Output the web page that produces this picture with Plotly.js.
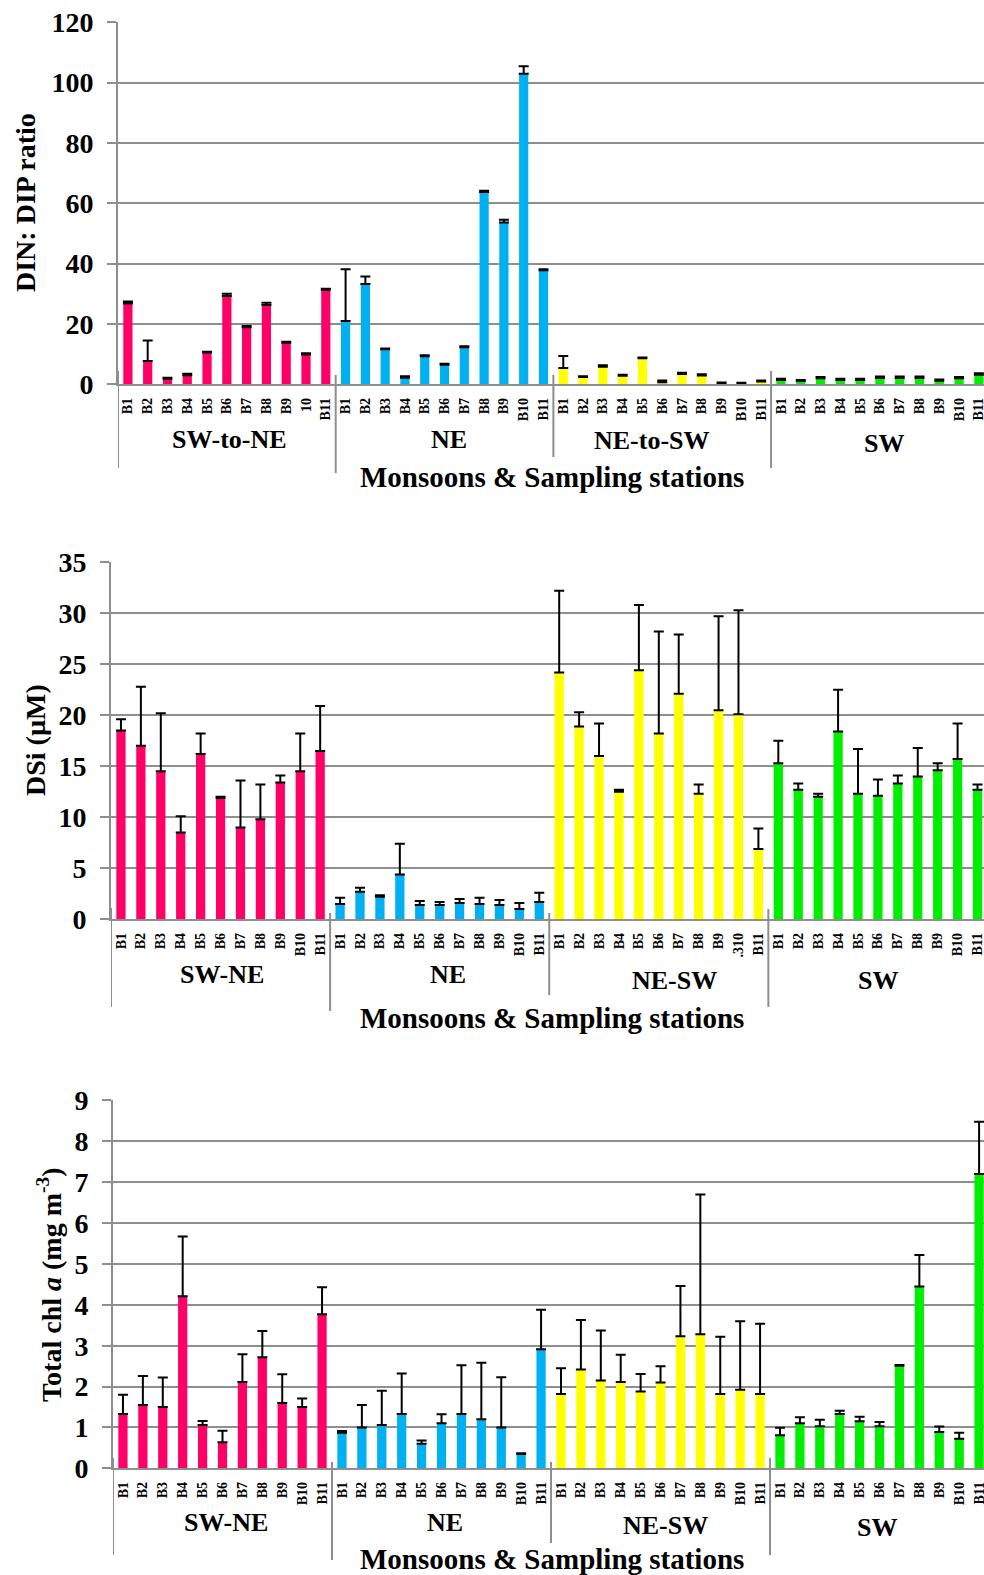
<!DOCTYPE html>
<html><head><meta charset="utf-8">
<script src="https://cdn.plot.ly/plotly-3.0.1.min.js"></script>
<style>html,body{margin:0;padding:0;background:#fff;overflow:hidden}</style>
</head><body>
<div id="chart" style="width:984px;height:1575px"></div>
<script>
// ---------- DATA ----------
const stations = ['B1','B2','B3','B4','B5','B6','B7','B8','B9','B10','B11'];
const groupColors = ['#FF0066','#00B0F0','#FFFF00','#00EE00'];

// Panel 1: DIN:DIP ratio
const dinGroups = ['SW-to-NE','NE','NE-to-SW','SW'];
const dinTicksSWtoNE = ['B1','B2','B3','B4','B5','B6','B7','B8','B9','10','B11'];
const dinMeanSWtoNE = [26.8, 7.7, 1.8, 3.0, 10.5, 29.3, 18.9, 26.3, 13.8, 9.9, 31.3];
const dinSdSWtoNE   = [0.6, 6.8, 0.4, 0.5, 0.3, 0.7, 0.4, 0.7, 0.3, 0.4, 0.4];
const dinMeanNE     = [21.0, 33.2, 11.6, 2.2, 9.3, 6.5, 12.3, 63.7, 53.6, 102.9, 37.8];
const dinSdNE       = [17.1, 2.5, 0.3, 0.5, 0.3, 0.3, 0.3, 0.4, 0.9, 2.5, 0.3];
const dinMeanNEtoSW = [5.4, 2.4, 5.8, 2.8, 8.6, 0.7, 3.4, 2.9, 0.3, 0.2, 0.9];
const dinSdNEtoSW   = [4.0, 0.3, 0.5, 0.4, 0.3, 0.6, 0.4, 0.4, 0.3, 0.3, 0.4];
const dinMeanSW     = [1.4, 1.1, 2.0, 1.4, 1.4, 2.1, 2.1, 2.1, 1.2, 2.0, 3.2];
const dinSdSW       = [0.4, 0.3, 0.4, 0.4, 0.4, 0.5, 0.5, 0.5, 0.4, 0.4, 0.5];

// Panel 2: DSi (µM)
const dsiGroups = ['SW-NE','NE','NE-SW','SW'];
const dsiTicksNESW = ['B1','B2','B3','B4','B5','B6','B7','B8','B9','.310','B11'];
const dsiMeanSWNE = [18.5, 17.0, 14.5, 8.5, 16.2, 11.9, 9.0, 9.8, 13.4, 14.5, 16.5];
const dsiSdSWNE   = [1.1, 5.8, 5.7, 1.6, 2.0, 0.1, 4.6, 3.4, 0.7, 3.7, 4.4];
const dsiMeanNE   = [1.5, 2.7, 2.2, 4.4, 1.4, 1.4, 1.6, 1.5, 1.4, 1.0, 1.7];
const dsiSdNE     = [0.6, 0.4, 0.15, 3.0, 0.4, 0.3, 0.4, 0.6, 0.5, 0.6, 0.9];
const dsiMeanNESW = [24.2, 18.9, 16.0, 12.5, 24.4, 18.2, 22.1, 12.3, 20.5, 20.1, 6.9];
const dsiSdNESW   = [8.0, 1.4, 3.2, 0.2, 6.4, 10.0, 5.8, 0.9, 9.2, 10.2, 2.0];
const dsiMeanSW   = [15.3, 12.7, 12.0, 18.4, 12.3, 12.1, 13.3, 14.0, 14.6, 15.7, 12.7];
const dsiSdSW     = [2.2, 0.6, 0.3, 4.1, 4.4, 1.6, 0.8, 2.8, 0.7, 3.5, 0.5];

// Panel 3: Total chl a (mg m-3)
const chlGroups = ['SW-NE','NE','NE-SW','SW'];
const chlMeanSWNE = [1.33, 1.55, 1.50, 4.21, 1.06, 0.64, 2.11, 2.72, 1.60, 1.50, 3.77];
const chlSdSWNE   = [0.47, 0.71, 0.72, 1.46, 0.10, 0.28, 0.68, 0.64, 0.70, 0.21, 0.66];
const chlMeanNE   = [0.87, 1.00, 1.06, 1.33, 0.60, 1.10, 1.33, 1.20, 1.00, 0.35, 2.91];
const chlSdNE     = [0.04, 0.55, 0.84, 0.99, 0.08, 0.22, 1.19, 1.38, 1.23, 0.02, 0.97];
const chlMeanNESW = [1.82, 2.42, 2.15, 2.11, 1.88, 2.10, 3.23, 3.28, 1.82, 1.92, 1.82];
const chlSdNESW   = [0.63, 1.21, 1.22, 0.67, 0.43, 0.40, 1.23, 3.42, 1.40, 1.68, 1.72];
const chlMeanSW   = [0.81, 1.10, 1.03, 1.33, 1.15, 1.03, 2.51, 4.45, 0.89, 0.72, 7.20];
const chlSdSW     = [0.18, 0.15, 0.16, 0.08, 0.11, 0.10, 0.02, 0.77, 0.13, 0.15, 1.28];

const xAxisTitle = 'Monsoons &amp; Sampling stations';

const panels = [
  { groups: dinGroups, means: [dinMeanSWtoNE, dinMeanNE, dinMeanNEtoSW, dinMeanSW],
    sds: [dinSdSWtoNE, dinSdNE, dinSdNEtoSW, dinSdSW],
    ticks: [dinTicksSWtoNE, stations, stations, stations],
    yTitle: 'DIN: DIP ratio', yMax: 120, dtick: 20 },
  { groups: dsiGroups, means: [dsiMeanSWNE, dsiMeanNE, dsiMeanNESW, dsiMeanSW],
    sds: [dsiSdSWNE, dsiSdNE, dsiSdNESW, dsiSdSW],
    ticks: [stations, stations, dsiTicksNESW, stations],
    yTitle: 'DSi (µM)', yMax: 35, dtick: 5 },
  { groups: chlGroups, means: [chlMeanSWNE, chlMeanNE, chlMeanNESW, chlMeanSW],
    sds: [chlSdSWNE, chlSdNE, chlSdNESW, chlSdSW],
    ticks: [stations, stations, stations, stations],
    yTitle: 'Total chl <i>a</i> (mg m<sup>-3</sup>)', yMax: 9, dtick: 1 }
];

// ---------- LAYOUT GEOMETRY (pixels) ----------
const W = 984, H = 1575;
const geo = [
  { axisX: 118, pitch: 19.79, yTop: 22, yZero: 384.3, titleX: 26, titleY: 203,
    groupY: [439, 439, 440, 443], groupShift: [3, 4, -10, 4], xTitleY: 477,
    div: [[371,468],[375,473],[375,457],[371,468]] },
  { axisX: 111, pitch: 19.92, yTop: 562, yZero: 919.3, titleX: 35, titleY: 740,
    groupY: [974, 974, 980, 980], groupShift: [1, 8, 16, 0], xTitleY: 1018,
    div: [[908,1007],[913,1011],[913,995],[909,1007]] },
  { axisX: 113, pitch: 19.91, yTop: 1100.3, yZero: 1468.3, titleX: 49, titleY: 1285,
    groupY: [1522, 1522, 1525, 1527], groupShift: [3, 3, 5, -3], xTitleY: 1559,
    div: [[1458,1555],[1462,1560],[1462,1543],[1458,1555]] }
];

const serif = 'Liberation Serif, Times New Roman, serif';
const gridCol = '#8e8e8e';
const px = v => v / W;
const py = v => 1 - v / H;

const traces = [];
const layout = {
  width: W, height: H, margin: {l: 0, r: 0, t: 0, b: 0},
  paper_bgcolor: '#fff', plot_bgcolor: '#fff',
  showlegend: false, barmode: 'overlay', bargap: 0.535,
  annotations: [], shapes: [],
  font: {family: serif, color: '#000'}
};

panels.forEach((p, pi) => {
  const g = geo[pi];
  const xa = pi === 0 ? 'x' : 'x' + (pi + 1);
  const ya = pi === 0 ? 'y' : 'y' + (pi + 1);
  const xKey = pi === 0 ? 'xaxis' : 'xaxis' + (pi + 1);
  const yKey = pi === 0 ? 'yaxis' : 'yaxis' + (pi + 1);
  const tickvals = [], ticktext = [];
  p.groups.forEach((grp, gi) => {
    const xs = p.means[gi].map((_, i) => gi * 11 + i);
    xs.forEach((x, i) => { tickvals.push(x); ticktext.push(p.ticks[gi][i]); });
    traces.push({
      type: 'bar', x: xs, y: p.means[gi], xaxis: xa, yaxis: ya,
      marker: {color: groupColors[gi], line: {width: 0}},
      error_y: {type: 'data', symmetric: false, array: p.sds[gi],
                arrayminus: p.sds[gi].map(() => 0),
                color: '#000', thickness: 2, width: 5},
      hoverinfo: 'x+y'
    });
    layout.annotations.push({
      xref: xa, yref: 'paper', x: gi * 11 + 5, y: py(g.groupY[gi]),
      xshift: g.groupShift[gi],
      text: grp, showarrow: false, xanchor: 'center', yanchor: 'middle',
      font: {family: serif, size: 26, weight: 'bold', color: '#000'}
    });
    layout.shapes.push({
      type: 'line', xref: xa, yref: 'paper', x0: gi * 11 - 0.5, x1: gi * 11 - 0.5,
      y0: py(g.div[gi][0]), y1: py(g.div[gi][1]),
      line: {color: gridCol, width: 2}
    });
  });
  const xEnd = (W - g.axisX) / g.pitch - 0.5;
  layout[xKey] = {
    domain: [px(g.axisX), 1], range: [-0.5, xEnd], anchor: ya,
    tickmode: 'array', tickvals: tickvals, ticktext: ticktext, tickangle: -90,
    ticks: '', ticklabelstandoff: 6, ticklabeloverflow: 'allow',
    tickfont: {family: serif, size: 14, weight: 'bold', color: '#000'},
    showgrid: false, zeroline: false, showline: true, linecolor: gridCol, linewidth: 2,
    fixedrange: true
  };
  layout[yKey] = {
    domain: [py(g.yZero), py(g.yTop)], range: [0, p.yMax * 1.0005], anchor: xa,
    dtick: p.dtick, tick0: 0,
    ticks: 'outside', ticklen: 9, tickcolor: gridCol, tickwidth: 2,
    ticklabelstandoff: 8,
    tickfont: {family: serif, size: 28, weight: 'bold', color: '#000'},
    showgrid: true, gridcolor: gridCol, gridwidth: 2,
    zeroline: false, showline: true, linecolor: gridCol, linewidth: 2,
    fixedrange: true
  };
  layout.annotations.push({
    xref: 'paper', yref: 'paper', x: px(g.titleX), y: py(g.titleY),
    text: p.yTitle, textangle: -90, showarrow: false,
    xanchor: 'center', yanchor: 'middle',
    font: {family: serif, size: 28, weight: 'bold', color: '#000'}
  });
  layout.annotations.push({
    xref: 'paper', yref: 'paper', x: px(552), y: py(g.xTitleY),
    text: xAxisTitle, showarrow: false, xanchor: 'center', yanchor: 'middle',
    font: {family: serif, size: 29, weight: 'bold', color: '#000'}
  });
});

Plotly.newPlot('chart', traces, layout, {displayModeBar: false, staticPlot: true});
</script>
</body></html>
